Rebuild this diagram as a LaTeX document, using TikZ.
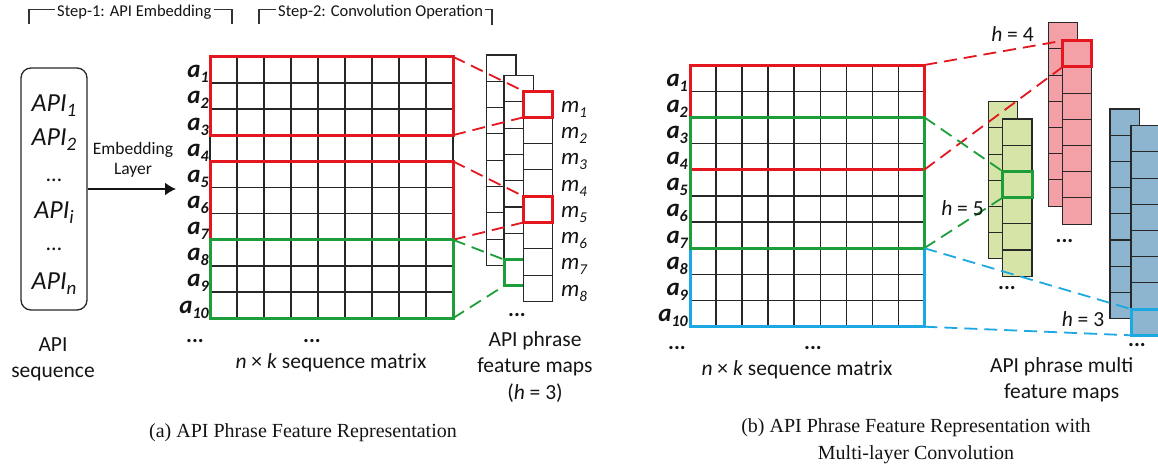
\documentclass[tikz,border=0pt]{standalone}
\usepackage{fontspec}
\setmainfont{Carlito}
\newfontfamily\capfont{Liberation Serif}
\usetikzlibrary{arrows.meta}
\definecolor{hred}{RGB}{228,22,30}
\definecolor{hgreen}{RGB}{30,158,58}
\definecolor{hblue}{RGB}{28,168,226}
\definecolor{fpink}{RGB}{243,160,166}
\definecolor{folive}{RGB}{215,228,168}
\definecolor{fblue}{RGB}{141,181,207}
\definecolor{edgec}{RGB}{40,40,40}
\definecolor{txt}{RGB}{20,20,20}
\newcommand\fsz[2]{\fontsize{#1}{#2}\selectfont}
\newcommand\sbx[2]{\raisebox{-5pt}{\fontsize{#1}{#1}\selectfont #2}}
\newcommand\featcol[6]{\foreach \k in {1,...,#5}{\filldraw[cellst, fill=#6] (#1,{#2+(\k-1)*#4}) rectangle ({#1+#3},{#2+\k*#4});}}
\begin{document}
\begin{tikzpicture}[x=1pt,y=-1pt,
  gridln/.style={draw=black!85, line width=1.3pt},
  hl/.style={draw=#1, line width=3pt, inner sep=0pt, outer sep=0pt, anchor=north west},
  dsh/.style={draw=#1, line width=1.8pt, dash pattern=on 13pt off 7pt},
  cellst/.style={draw=edgec, line width=1.1pt},
  brk/.style={draw=black!80, line width=1.1pt},
  steptxt/.style={font=\fsz{16.5}{18}, text=txt, inner sep=2pt},
  lbl/.style={font=\fsz{21.5}{26.5}, text=txt, inner sep=0pt, align=center},
  albl/.style={font=\fsz{25}{25}\bfseries\itshape, text=txt, inner sep=0pt, anchor=base east},
  mlbl/.style={font=\fsz{23}{23}\itshape, text=txt, inner sep=0pt, anchor=base west},
  apitxt/.style={font=\fsz{26}{26}\itshape, text=txt, inner sep=0pt, anchor=base},
  dots/.style={font=\fsz{22}{22}\bfseries, text=txt, inner sep=0pt},
  capt/.style={font=\capfont\fsz{20}{27}, text=txt, inner sep=0pt, align=center}
]
\useasboundingbox (0,0) rectangle (1158,469);
\clip (0,0) rectangle (1158,469);

% ---------- step brackets ----------
\node[steptxt, anchor=base west] (s1) at (55,16.5) {Step-1: API Embedding};
\node[steptxt, anchor=base west] (s2) at (276,16.5) {Step-2: Convolution Operation};
\coordinate (b1bl) at (29,24); \coordinate (b1tl) at (29,9.5);
\coordinate (b1tr) at (232,9.5); \coordinate (b1br) at (232,24);
\coordinate (b2bl) at (259,24); \coordinate (b2tl) at (259,9.5);
\coordinate (b2tr) at (492,9.5); \coordinate (b2br) at (492,25);
\draw[brk] (b1bl) -- (b1tl) -- (b1tl -| s1.west);
\draw[brk] (s1.east |- b1tr) -- (b1tr) -- (b1br);
\draw[brk] (b2bl) -- (b2tl) -- (b2tl -| s2.west);
\draw[brk] (s2.east |- b2tr) -- (b2tr) -- (b2br);

% ---------- API sequence ----------
\node[draw=black!85, line width=1.3pt, rounded corners=10pt, minimum width=66pt, minimum height=242pt, inner sep=0pt] (seq) at (54,189) {};
\node[apitxt] (api1) at (54,111) {API\sbx{19}{1}};
\node[apitxt] (api2) at (54,145) {API\sbx{19}{2}};
\node[font=\fsz{22}{22}, text=txt, inner sep=0pt, anchor=base] (sd1) at (54,181.7) {…};
\node[apitxt] (apii) at (54,218) {API\sbx{19}{i}};
\node[font=\fsz{22}{22}, text=txt, inner sep=0pt, anchor=base] (sd2) at (54,250) {…};
\node[apitxt] (apin) at (54,289) {API\sbx{19}{n}};
\node[lbl, font=\fsz{21.5}{26}] (seqlbl) at (53,359) {API\\sequence};
\coordinate (arrend) at (176,189);
\draw[-{Latex[length=11pt,width=13pt]}, line width=1.6pt, draw=txt, fill=txt] (seq.east) -- (arrend);
\node[font=\fsz{17.5}{20}, text=txt, align=center, inner sep=0pt] (emb) at (133,160) {Embedding\\Layer};

% ---------- matrix (a) ----------
\foreach \i in {0,...,10} \draw[gridln] (210,{56.7+\i*26.15}) -- (453,{56.7+\i*26.15});
\foreach \j in {0,...,9} \draw[gridln] ({210+\j*27},56.7) -- ({210+\j*27},318.2);
\foreach \i in {1,...,10} \node[albl] (la\i) at (209,{56.7+(\i-0.5)*26.15+8}) {a\sbx{16}{\i}};
\node[hl=hred, minimum width=243pt, minimum height=78.45pt] (A1) at (210,56.7) {};
\node[hl=hred, minimum width=243pt, minimum height=78.45pt] (A2) at (210,161.3) {};
\node[hl=hgreen, minimum width=243pt, minimum height=78.45pt] (A3) at (210,239.75) {};
\node[dots] (ad1) at (195,341.5) {...};
\node[dots] (ad2) at (312,341.5) {...};
\node[lbl] (mata) at (331,363) {\textit{n} × \textit{k} sequence matrix};

% ---------- feature maps (a) ----------
\featcol{486.7}{55}{29.3}{26.3}{8}{white}
\featcol{504}{75.5}{29.3}{26.3}{8}{white}
\node[hl=hgreen, minimum width=29.3pt, minimum height=26.3pt] (G8) at (504,259.6) {};
\featcol{523.3}{91}{29.4}{26.3}{8}{white}
\node[hl=hred, minimum width=29.4pt, minimum height=26.3pt] (M1) at (523.3,91) {};
\node[hl=hred, minimum width=29.4pt, minimum height=26.3pt] (M5) at (523.3,196.2) {};
\foreach \i in {1,...,8} \node[mlbl] (lm\i) at (561,{91+(\i-0.5)*26.3+8}) {m\sbx{15}{\i}};
\node[dots] (fd) at (517,315) {...};
\node[lbl] (fma) at (535,367) {API phrase\\feature maps\\(\textit{h} = 3)};
\draw[dsh=hred] (A1.north east) -- (M1.north west);
\draw[dsh=hred] (A1.south east) -- (M1.south west);
\draw[dsh=hred] (A2.north east) -- (M5.north west);
\draw[dsh=hred] (A2.south east) -- (M5.south west);
\draw[dsh=hgreen] (A3.north east) -- (G8.north west);
\draw[dsh=hgreen] (A3.south east) -- (G8.south west);

% ---------- matrix (b) ----------
\foreach \i in {0,...,10} \draw[gridln] (690,{65+\i*26.17}) -- (924.3,{65+\i*26.17});
\foreach \j in {0,...,9} \draw[gridln] ({690+\j*26.03},65) -- ({690+\j*26.03},326.7);
\foreach \i in {1,...,10} \node[albl] (lb\i) at (688,{65+(\i-0.5)*26.17+8}) {a\sbx{16}{\i}};
\node[hl=hblue, minimum width=234.3pt, minimum height=78.5pt] (B3) at (690,248.2) {};
\node[hl=hred, minimum width=234.3pt, minimum height=104.7pt] (B1) at (690,65) {};
\node[hl=hgreen, minimum width=234.3pt, minimum height=130.85pt] (B2) at (690,117.3) {};
\node[dots] (bd1) at (677,348.3) {...};
\node[dots] (bd2) at (813,348.3) {...};
\node[lbl] (matb) at (797,370) {\textit{n} × \textit{k} sequence matrix};

% ---------- feature maps (b) ----------
\featcol{988.3}{101.7}{29}{26.2}{6}{folive}
\featcol{1002.7}{119}{29.3}{26.2}{6}{folive}
\featcol{1048.3}{22.7}{29}{26.2}{7}{fpink}
\featcol{1062.7}{40.7}{29}{26.2}{7}{fpink}
\featcol{1110}{109}{29.3}{26.2}{8}{fblue}
\featcol{1131}{125.7}{29.3}{26.2}{8}{fblue}
\node[hl=hred, minimum width=29pt, minimum height=26.2pt] (HR) at (1062.7,40.7) {};
\node[hl=hgreen, minimum width=29.3pt, minimum height=26.2pt] (HG) at (1002.7,171.4) {};
\node[hl=hblue, minimum width=29.3pt, minimum height=26.2pt] (HB) at (1131,309.1) {};
\draw[dsh=hred] (B1.north east) -- (HR.north west);
\draw[dsh=hred] (B1.south east) -- (HR.south west);
\draw[dsh=hgreen] (B2.north east) -- (HG.north west);
\draw[dsh=hgreen] (B2.south east) -- (HG.south west);
\draw[dsh=hblue] (B3.north east) -- (HB.north west);
\draw[dsh=hblue] (B3.south east) -- (HB.south west);
\node[lbl, anchor=base] (h4) at (1012.5,41.7) {\textit{h} = 4};
\node[lbl, anchor=base] (h5) at (962.5,215) {\textit{h} = 5};
\node[lbl, anchor=base] (h3) at (1083,326.7) {\textit{h} = 3};
\node[dots] (gd) at (1007,288.3) {...};
\node[dots] (pd) at (1064.5,241) {...};
\node[dots] (bld) at (1137,345) {...};
\node[lbl] (fmb) at (1061.7,380) {API phrase multi\\feature maps};

% ---------- captions ----------
\node[capt] (capa) at (303,433) {(a) API Phrase Feature Representation};
\node[capt] (capb) at (916,441) {(b) API Phrase Feature Representation with\\Multi-layer Convolution};
\end{tikzpicture}
\end{document}
